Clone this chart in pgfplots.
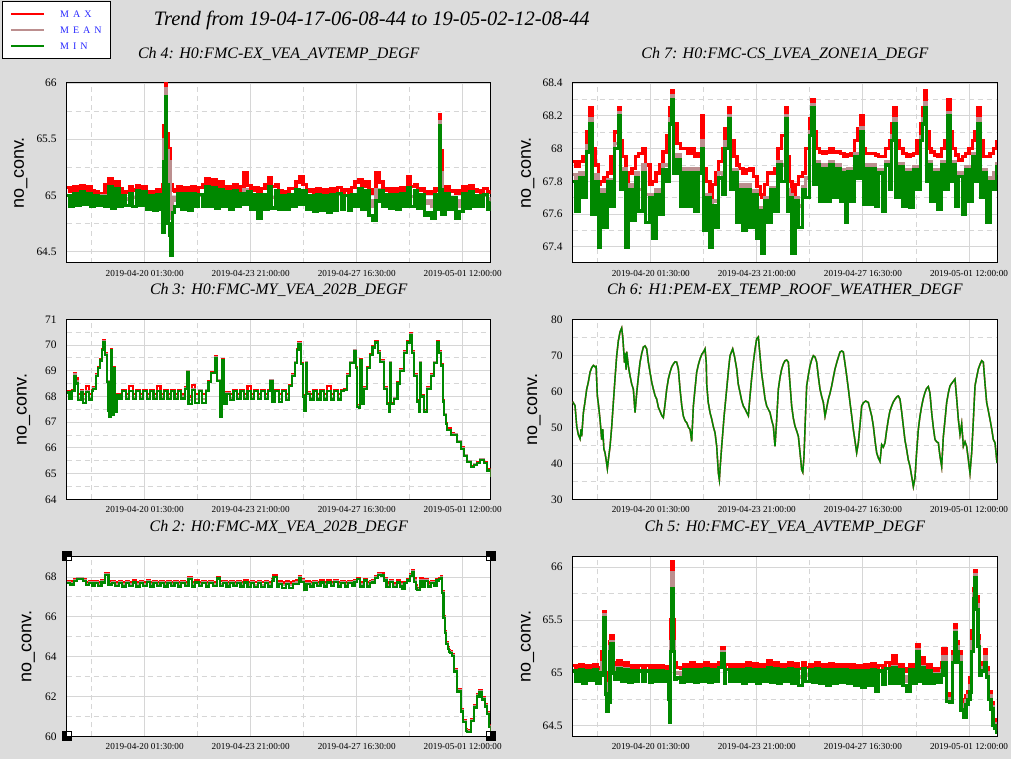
\documentclass[border=0pt]{standalone}
\usepackage{fontspec}
\setmainfont{Liberation Serif}
\setsansfont{Liberation Sans}
\usepackage{pgfplots}
\usepackage{pgfplotstable}
\pgfplotsset{compat=1.18}
\definecolor{bgc}{RGB}{220,220,220}
\definecolor{cmax}{RGB}{255,0,0}
\definecolor{cmean}{RGB}{188,143,143}
\definecolor{cmin}{RGB}{0,136,0}
\definecolor{gridc}{RGB}{214,214,214}
\definecolor{legblue}{RGB}{40,40,255}

% Ch 4
\pgfplotstableread{
t max mean min
0.0 65.07 65.00 65.00
0.125 65.04 64.98 64.90
0.25 65.08 65.01 65.02
0.375 65.05 64.98 64.91
0.5 65.09 65.02 65.03
0.625 65.05 64.99 64.92
0.75 65.08 65.01 65.02
0.875 65.04 64.98 64.90
1.0 65.03 65.00 65.00
1.125 65.02 64.97 64.91
1.25 65.02 65.00 64.99
1.375 65.10 64.99 64.90
1.5 65.15 65.05 65.08
1.625 65.09 64.99 64.89
1.75 65.12 65.04 65.06
1.875 65.06 64.98 64.90
2.0 65.03 65.00 65.00
2.125 65.03 64.97 64.91
2.25 65.08 65.01 65.02
2.375 65.05 64.98 64.90
2.5 65.09 65.02 65.04
2.625 65.06 64.99 64.91
2.75 65.08 65.01 65.03
2.875 65.03 64.96 64.88
3.0 65.03 64.99 65.00
3.125 65.03 64.95 64.87
3.25 65.05 65.00 65.01
3.375 65.03 64.95 64.88
3.45 65.10 64.90 64.67
3.5 65.62 65.50 65.30
3.55 66.00 65.95 65.88
3.6 65.55 65.40 65.10
3.65 65.30 65.10 64.75
3.7 65.42 65.30 64.65
3.74 65.10 64.80 64.47
3.8 65.05 64.98 64.85
3.875 65.04 64.96 64.90
4.0 65.08 65.01 65.02
4.125 65.05 64.97 64.88
4.25 65.07 65.01 65.02
4.375 65.04 64.96 64.87
4.5 65.08 65.01 65.02
4.625 65.04 64.97 64.90
4.75 65.07 65.00 65.01
4.875 65.10 64.98 64.90
5.0 65.15 65.06 65.08
5.125 65.10 64.99 64.90
5.25 65.14 65.05 65.07
5.375 65.05 64.97 64.89
5.5 65.12 65.03 65.05
5.625 65.05 64.98 64.90
5.75 65.08 65.01 65.03
5.875 65.05 64.97 64.88
6.0 65.10 65.02 65.04
6.125 65.05 64.98 64.90
6.25 65.08 65.01 65.02
6.375 65.20 65.05 64.92
6.5 65.09 65.02 65.03
6.625 65.05 64.97 64.88
6.75 65.07 65.00 65.01
6.875 65.04 64.93 64.80
7.0 65.06 65.00 65.01
7.125 65.10 64.98 64.88
7.25 65.16 65.06 65.08
7.375 65.08 64.98 64.89
7.5 65.10 65.03 65.04
7.625 65.04 64.97 64.88
7.75 65.03 65.00 65.00
7.875 65.03 64.96 64.88
8.0 65.06 65.00 65.01
8.125 65.06 64.98 64.90
8.25 65.12 65.03 65.05
8.375 65.17 65.02 64.92
8.5 65.10 65.03 65.04
8.625 65.04 64.97 64.88
8.75 65.05 65.00 65.00
8.875 65.03 64.96 64.86
9.0 65.06 65.00 65.01
9.125 65.03 64.96 64.87
9.25 65.05 65.00 65.00
9.375 65.03 64.95 64.85
9.5 65.06 65.00 65.01
9.625 65.04 64.96 64.87
9.75 65.07 65.01 65.02
9.875 65.03 64.96 64.88
10.0 65.05 65.00 65.00
10.125 65.03 64.96 64.87
10.25 65.07 65.00 65.01
10.375 65.12 64.99 64.90
10.5 65.14 65.04 65.06
10.625 65.08 64.98 64.88
10.75 65.12 65.03 65.04
10.875 65.05 64.95 64.82
11.0 65.02 64.90 64.78
11.125 65.20 65.05 64.95
11.25 65.12 65.03 65.04
11.375 65.05 64.98 64.90
11.5 65.06 65.00 65.01
11.625 65.04 64.97 64.89
11.75 65.06 65.00 65.01
11.875 65.04 64.96 64.88
12.0 65.07 65.01 65.02
12.125 65.05 64.98 64.90
12.25 65.17 65.05 65.07
12.375 65.08 64.99 64.90
12.5 65.10 65.03 65.04
12.625 65.05 64.97 64.89
12.75 65.06 65.00 65.01
12.875 65.03 64.93 64.82
13.0 65.02 64.95 64.85
13.125 65.03 64.90 64.80
13.25 65.06 65.00 65.01
13.35 65.05 64.97 64.88
13.4 65.72 65.66 65.62
13.45 65.40 65.20 65.05
13.5 65.05 64.93 64.83
13.625 65.08 65.01 65.02
13.75 65.04 64.96 64.88
13.875 65.04 64.98 64.98
14.0 65.02 64.90 64.80
14.125 65.04 64.95 64.86
14.25 65.08 65.01 65.02
14.375 65.05 64.98 64.89
14.5 65.09 65.02 65.03
14.625 65.05 64.98 64.90
14.75 65.04 65.00 65.00
14.875 65.03 64.96 64.90
15.0 65.06 65.00 65.01
15.125 65.03 64.96 64.88
15.25 65.05 64.99 64.95
}\chfour

% Ch 7
\pgfplotstableread{
t max mean min
0.0 67.92 67.84 67.80
0.125 67.89 67.75 67.62
0.25 67.92 67.85 67.82
0.375 67.95 67.78 67.70
0.5 68.10 68.02 67.98
0.62 68.25 68.18 68.15
0.7 68.00 67.80 67.60
0.8 67.90 67.84 67.80
0.92 67.78 67.60 67.40
1.0 67.80 67.75 67.72
1.125 67.82 67.68 67.52
1.25 67.85 67.81 67.80
1.375 67.95 67.78 67.65
1.5 68.10 68.03 68.00
1.64 68.25 68.22 68.20
1.72 68.05 67.85 67.75
1.8 67.95 67.88 67.85
1.92 67.78 67.60 67.40
2.0 67.85 67.78 67.75
2.125 67.88 67.72 67.56
2.25 67.95 67.85 67.82
2.375 67.97 67.75 67.62
2.5 68.00 67.90 67.85
2.625 67.90 67.72 67.55
2.78 67.78 67.72 67.70
2.875 67.80 67.60 67.45
3.0 67.85 67.75 67.72
3.125 67.90 67.72 67.60
3.25 67.98 67.90 67.87
3.375 68.08 67.90 67.80
3.48 68.25 68.18 68.15
3.56 68.35 68.32 68.30
3.625 68.15 67.95 67.85
3.75 68.03 67.96 67.93
3.875 68.00 67.80 67.65
4.0 68.00 67.88 67.85
4.125 67.97 67.78 67.65
4.25 68.00 67.88 67.85
4.375 67.95 67.75 67.62
4.5 67.97 67.88 67.85
4.63 68.20 68.05 68.00
4.7 67.88 67.65 67.50
4.8 67.80 67.72 67.70
4.93 67.70 67.55 67.40
5.0 67.78 67.68 67.65
5.125 67.85 67.68 67.52
5.25 67.92 67.85 67.82
5.375 68.00 67.82 67.72
5.47 68.12 68.04 68.00
5.59 68.25 68.20 68.18
5.68 68.05 67.85 67.75
5.8 67.95 67.87 67.85
5.9 67.90 67.70 67.55
6.0 67.88 67.78 67.75
6.125 67.85 67.65 67.50
6.25 67.87 67.78 67.75
6.375 67.88 67.68 67.52
6.5 67.83 67.74 67.72
6.625 67.77 67.60 67.45
6.75 67.72 67.64 67.62
6.81 67.70 67.50 67.36
6.9 67.78 67.70 67.68
7.0 67.85 67.68 67.55
7.125 67.85 67.76 67.75
7.25 67.88 67.72 67.62
7.375 68.00 67.92 67.90
7.5 68.08 67.90 67.80
7.64 68.25 68.20 68.18
7.72 67.95 67.75 67.62
7.8 67.80 67.72 67.70
7.88 67.65 67.50 67.36
8.0 67.78 67.70 67.68
8.125 67.83 67.65 67.52
8.25 67.85 67.77 67.75
8.375 68.00 67.82 67.70
8.5 68.18 68.10 68.08
8.58 68.30 68.27 68.25
8.67 68.10 67.90 67.78
8.75 68.00 67.92 67.90
8.875 67.98 67.80 67.68
9.0 67.97 67.90 67.88
9.125 67.98 67.80 67.68
9.25 68.00 67.92 67.90
9.375 67.98 67.80 67.70
9.5 67.98 67.90 67.88
9.625 67.97 67.78 67.68
9.75 67.95 67.87 67.85
9.8 67.95 67.70 67.55
9.875 67.96 67.88 67.86
10.0 67.97 67.80 67.68
10.125 68.05 67.97 67.95
10.25 68.12 67.95 67.82
10.34 68.20 68.13 68.10
10.45 68.00 67.80 67.66
10.5 67.97 67.90 67.88
10.625 67.97 67.80 67.66
10.75 67.97 67.90 67.88
10.875 67.96 67.78 67.65
11.0 67.95 67.87 67.85
11.125 67.95 67.76 67.62
11.25 68.00 67.92 67.90
11.375 68.05 67.88 67.75
11.46 68.15 68.08 68.05
11.54 68.25 68.18 68.15
11.625 68.05 67.85 67.70
11.75 68.00 67.91 67.89
11.875 67.97 67.78 67.65
12.0 67.95 67.87 67.85
12.125 67.96 67.78 67.64
12.25 67.97 67.89 67.87
12.375 68.05 67.88 67.75
12.5 68.15 68.07 68.05
12.58 68.25 68.18 68.15
12.65 68.35 68.28 68.25
12.72 68.10 67.90 67.80
12.8 68.00 67.92 67.90
12.875 67.98 67.80 67.68
13.0 67.96 67.87 67.85
13.125 67.95 67.76 67.63
13.25 68.00 67.92 67.90
13.375 68.05 67.88 67.75
13.49 68.30 68.22 68.20
13.56 68.10 67.90 67.80
13.65 68.00 67.92 67.90
13.75 67.96 67.78 67.65
13.875 67.93 67.85 67.83
14.0 67.95 67.75 67.60
14.125 67.97 67.89 67.87
14.25 68.00 67.82 67.68
14.375 68.05 67.97 67.95
14.45 68.10 67.92 67.80
14.57 68.25 68.18 68.15
14.65 68.05 67.85 67.70
14.75 67.95 67.87 67.85
14.87 67.95 67.72 67.55
15.0 67.97 67.82 67.80
15.125 68.00 67.85 67.75
15.25 68.05 67.92 67.90
}\chseven

% Ch 3
\pgfplotstableread{
t max mean min
0.0 68.20 68.17 68.15
0.1 68.12 68.00 67.92
0.2 68.23 68.21 68.20
0.28 68.90 68.85 68.80
0.34 68.70 68.60 68.50
0.42 68.10 67.95 67.85
0.5 68.23 68.20 68.18
0.6 68.10 67.90 67.75
0.7 68.40 68.20 68.18
0.8 68.10 67.95 67.88
0.9 68.23 68.21 68.20
0.96 68.35 68.32 68.30
1.05 68.85 68.82 68.80
1.12 69.15 69.12 69.10
1.2 69.45 69.42 69.40
1.27 69.85 69.82 69.80
1.32 70.20 70.15 70.10
1.38 69.70 69.65 69.60
1.44 68.60 68.58 68.55
1.50 67.50 67.48 67.45
1.54 67.25 67.22 67.20
1.58 69.85 69.82 69.80
1.62 68.40 68.35 68.30
1.66 67.35 67.32 67.30
1.70 69.15 69.12 69.10
1.74 67.42 67.40 67.38
1.80 68.10 68.07 68.05
1.9 68.10 67.98 67.90
2.0 68.23 68.21 68.20
2.125 68.10 67.98 67.90
2.25 68.40 68.22 68.20
2.375 68.10 67.98 67.90
2.5 68.23 68.21 68.20
2.625 68.10 67.98 67.90
2.75 68.23 68.21 68.20
2.875 68.10 67.98 67.90
3.0 68.23 68.21 68.20
3.125 68.10 67.98 67.90
3.25 68.40 68.22 68.20
3.375 68.10 67.98 67.90
3.5 68.23 68.21 68.20
3.625 68.10 67.98 67.90
3.75 68.23 68.22 68.22
3.875 68.10 67.98 67.90
4.0 68.23 68.21 68.20
4.125 68.10 68.00 67.92
4.25 68.35 68.32 68.30
4.32 69.00 68.97 68.95
4.38 68.00 67.85 67.70
4.5 68.45 68.28 68.25
4.625 68.10 67.90 67.75
4.75 68.25 68.23 68.22
4.875 68.10 67.90 67.75
5.0 68.25 68.23 68.22
5.1 68.60 68.57 68.55
5.2 68.95 68.92 68.90
5.34 69.55 69.52 69.50
5.42 68.65 68.62 68.60
5.52 67.25 67.22 67.20
5.58 69.45 69.42 69.40
5.64 67.80 67.75 67.70
5.75 68.15 68.12 68.10
5.875 68.10 67.95 67.85
6.0 68.23 68.21 68.20
6.125 68.10 67.98 67.90
6.25 68.23 68.21 68.20
6.375 68.10 67.98 67.90
6.5 68.40 68.22 68.20
6.625 68.10 67.98 67.90
6.75 68.23 68.21 68.20
6.875 68.10 67.98 67.90
7.0 68.23 68.21 68.20
7.125 68.10 67.98 67.90
7.25 68.23 68.21 68.20
7.32 68.65 68.62 68.60
7.4 68.10 67.90 67.80
7.5 68.23 68.21 68.20
7.625 68.10 67.90 67.78
7.75 68.23 68.21 68.20
7.875 68.10 67.95 67.85
8.0 68.45 68.42 68.40
8.1 68.85 68.82 68.80
8.2 69.35 69.32 69.30
8.28 69.85 69.82 69.80
8.34 70.10 70.07 70.05
8.42 69.30 69.27 69.25
8.5 68.05 68.02 68.00
8.55 67.48 67.46 67.45
8.61 69.35 69.32 69.30
8.64 68.15 68.12 68.10
8.75 68.10 67.95 67.88
8.875 68.23 68.21 68.20
9.0 68.10 67.95 67.88
9.125 68.23 68.21 68.20
9.25 68.10 67.95 67.88
9.375 68.40 68.22 68.20
9.5 68.10 67.95 67.88
9.625 68.23 68.21 68.20
9.75 68.10 67.95 67.88
9.875 68.23 68.21 68.20
9.96 68.28 68.26 68.25
10.08 68.85 68.82 68.80
10.2 69.35 69.32 69.30
10.32 69.82 69.80 69.78
10.4 69.15 69.12 69.10
10.44 67.65 67.62 67.60
10.5 67.58 67.56 67.55
10.56 69.45 69.42 69.40
10.62 67.75 67.72 67.70
10.68 68.35 68.32 68.30
10.8 69.15 69.12 69.10
10.92 69.65 69.62 69.60
11.0 69.95 69.92 69.90
11.1 70.15 70.12 70.10
11.2 69.75 69.72 69.70
11.28 69.40 69.37 69.35
11.4 68.35 68.32 68.30
11.52 67.75 67.72 67.70
11.58 67.42 67.41 67.40
11.62 69.35 69.32 69.30
11.67 67.75 67.72 67.70
11.76 67.95 67.92 67.90
11.9 68.55 68.52 68.50
12.0 69.05 69.02 69.00
12.12 69.75 69.72 69.70
12.25 70.15 70.12 70.10
12.34 70.45 70.42 70.40
12.42 69.75 69.72 69.70
12.5 68.85 68.82 68.80
12.6 67.85 67.82 67.80
12.67 67.42 67.41 67.40
12.70 69.35 69.32 69.30
12.75 68.05 68.02 68.00
12.85 67.45 67.42 67.40
12.97 68.35 68.32 68.30
13.09 68.85 68.82 68.80
13.2 69.35 69.32 69.30
13.33 70.15 70.12 70.10
13.4 69.75 69.72 69.70
13.47 69.25 69.22 69.20
13.53 67.85 67.82 67.80
13.57 67.32 67.30 67.28
13.63 66.96 66.94 66.92
13.69 66.75 66.70 66.68
13.81 66.58 66.54 66.50
13.93 66.55 66.52 66.50
14.05 66.28 66.25 66.22
14.17 66.02 66.00 65.97
14.29 65.72 65.70 65.68
14.41 65.50 65.47 65.45
14.53 65.30 65.27 65.25
14.65 65.38 65.35 65.32
14.75 65.45 65.42 65.40
14.86 65.58 65.55 65.52
15.0 65.45 65.42 65.40
15.12 65.16 65.14 65.12
15.25 64.88 64.86 64.85
}\chthree

% Ch 6
\pgfplotstableread{
t v
0.0 57.1
0.084 56.0
0.144 50.3
0.2 48.0
0.264 46.8
0.3 49.5
0.323 47.5
0.383 54.0
0.44 57.0
0.503 60.6
0.56 62.5
0.623 65.3
0.68 66.5
0.743 67.2
0.803 66.8
0.84 66.9
0.886 58.7
0.93 56.0
0.982 52.2
1.042 46.6
1.08 49.5
1.12 44.0
1.162 42.9
1.2 41.0
1.246 38.5
1.29 41.5
1.342 44.7
1.4 50.0
1.461 56.9
1.52 63.5
1.581 69.9
1.64 74.0
1.701 76.5
1.761 77.6
1.8 75.0
1.821 72.7
1.86 68.0
1.881 70.5
1.92 66.0
1.941 71.0
2.0 67.0
2.06 64.3
2.12 62.0
2.18 60.6
2.24 54.1
2.3 59.5
2.36 64.0
2.42 68.1
2.48 70.5
2.54 72.3
2.6 72.6
2.659 71.8
2.72 68.0
2.779 65.3
2.84 62.5
2.899 60.6
2.96 58.8
3.019 57.8
3.08 55.5
3.138 54.5
3.2 53.3
3.258 52.7
3.32 56.5
3.378 60.6
3.44 63.5
3.498 65.3
3.56 66.8
3.618 67.6
3.68 68.2
3.737 68.1
3.797 66.2
3.857 60.6
3.92 56.0
3.977 53.1
4.04 51.8
4.097 51.3
4.16 50.0
4.217 49.4
4.277 46.1
4.336 55.9
4.4 61.0
4.456 65.3
4.52 67.5
4.576 69.0
4.64 70.3
4.696 70.9
4.756 71.8
4.8 68.0
4.816 62.0
4.87 57.0
4.935 54.1
4.995 52.3
5.06 50.0
5.115 48.5
5.175 44.7
5.235 37.3
5.271 35.4
5.31 40.0
5.355 44.7
5.44 53.0
5.534 60.6
5.6 66.0
5.654 69.9
5.75 71.8
5.82 69.5
5.894 66.2
5.95 62.0
6.013 59.7
6.07 57.5
6.133 55.9
6.2 55.0
6.253 54.1
6.313 53.2
6.373 58.7
6.43 63.5
6.493 68.1
6.55 71.5
6.612 74.6
6.672 75.1
6.732 69.9
6.79 65.0
6.852 61.5
6.91 58.0
6.972 55.9
7.03 55.0
7.092 54.1
7.15 52.0
7.211 50.3
7.271 44.7
7.33 52.0
7.391 60.6
7.45 63.8
7.511 66.2
7.57 67.6
7.631 68.5
7.69 68.7
7.75 68.1
7.81 62.0
7.87 55.9
7.93 52.5
7.99 50.3
8.05 49.0
8.11 47.5
8.17 43.0
8.23 38.2
8.27 37.5
8.313 41.9
8.36 52.0
8.409 61.5
8.47 64.5
8.529 67.1
8.59 68.8
8.649 69.9
8.71 69.5
8.769 68.1
8.83 64.0
8.888 60.6
8.95 58.5
9.008 56.9
9.068 53.1
9.13 55.5
9.188 57.8
9.25 59.5
9.308 61.5
9.37 64.0
9.427 66.2
9.52 68.8
9.607 70.9
9.67 71.2
9.727 70.9
9.79 67.5
9.847 64.3
9.91 60.5
9.966 56.9
10.03 53.0
10.086 49.4
10.15 46.0
10.206 42.9
10.266 45.7
10.33 51.0
10.386 55.9
10.446 56.8
10.53 57.3
10.625 56.9
10.685 55.0
10.75 53.0
10.805 50.3
10.87 46.0
10.925 42.9
10.985 41.5
11.045 40.5
11.105 45.2
11.165 44.5
11.224 45.7
11.28 49.0
11.344 52.2
11.4 54.5
11.464 55.9
11.52 57.0
11.584 57.8
11.65 58.5
11.704 58.7
11.763 57.8
11.82 54.5
11.883 50.3
11.94 46.5
12.003 43.8
12.06 41.0
12.123 39.1
12.18 36.5
12.243 33.5
12.302 36.0
12.36 43.0
12.422 49.4
12.48 53.0
12.542 55.9
12.6 58.0
12.662 59.7
12.72 60.8
12.781 61.3
12.84 59.5
12.901 54.1
12.96 50.0
13.021 46.6
13.08 46.0
13.141 45.7
13.2 42.0
13.261 39.1
13.321 47.4
13.38 52.0
13.441 56.9
13.5 59.5
13.56 61.5
13.65 62.5
13.74 63.4
13.8 58.0
13.86 52.2
13.92 48.0
13.98 51.0
14.04 44.7
14.1 46.0
14.159 44.7
14.22 41.0
14.279 37.3
14.339 42.9
14.4 52.0
14.459 61.5
14.52 64.0
14.579 66.2
14.64 67.5
14.698 68.5
14.758 68.1
14.82 62.0
14.878 56.9
14.94 54.5
14.998 52.2
15.06 49.5
15.118 46.6
15.178 45.7
15.25 40.1
}\chsix

% Ch 2
\pgfplotstableread{
t max mean min
0.0 67.78 67.72 67.68
0.125 67.78 67.70 67.62
0.25 67.88 67.82 67.80
0.36 67.95 67.92 67.90
0.5 67.95 67.92 67.88
0.6 67.90 67.84 67.80
0.7 67.75 67.66 67.58
0.8 67.78 67.72 67.68
0.9 67.72 67.62 67.55
1.0 67.78 67.72 67.68
1.125 67.72 67.62 67.53
1.25 67.85 67.78 67.72
1.38 68.20 68.15 68.10
1.5 67.80 67.70 67.62
1.625 67.80 67.72 67.70
1.75 67.75 67.62 67.53
1.875 67.80 67.72 67.70
2.0 67.75 67.62 67.52
2.125 67.80 67.72 67.70
2.25 67.75 67.62 67.53
2.375 67.82 67.75 67.72
2.5 67.75 67.62 67.52
2.625 67.80 67.72 67.70
2.75 67.75 67.62 67.53
2.875 67.85 67.78 67.75
3.0 67.75 67.62 67.52
3.125 67.80 67.72 67.70
3.25 67.75 67.62 67.53
3.375 67.80 67.72 67.70
3.5 67.75 67.62 67.52
3.625 67.80 67.72 67.70
3.75 67.75 67.62 67.53
3.875 67.80 67.72 67.70
4.0 67.75 67.62 67.52
4.125 67.80 67.72 67.70
4.25 67.75 67.65 67.55
4.38 68.00 67.95 67.90
4.5 67.75 67.62 67.52
4.625 67.82 67.75 67.72
4.75 67.75 67.62 67.53
4.875 67.80 67.72 67.70
5.0 67.75 67.62 67.52
5.125 67.80 67.72 67.70
5.25 67.75 67.64 67.55
5.40 68.00 67.95 67.92
5.5 67.78 67.66 67.55
5.625 67.80 67.72 67.70
5.75 67.75 67.62 67.52
5.875 67.80 67.72 67.70
6.0 67.75 67.62 67.53
6.125 67.80 67.72 67.70
6.25 67.75 67.62 67.52
6.375 67.82 67.75 67.72
6.5 67.75 67.62 67.50
6.625 67.80 67.72 67.70
6.75 67.75 67.60 67.48
6.875 67.80 67.72 67.70
7.0 67.75 67.60 67.48
7.125 67.80 67.72 67.70
7.25 67.75 67.62 67.52
7.375 67.90 67.82 67.78
7.44 68.08 68.02 68.00
7.55 67.75 67.62 67.52
7.625 67.78 67.70 67.66
7.75 67.72 67.58 67.45
7.875 67.78 67.70 67.66
8.0 67.72 67.58 67.45
8.125 67.78 67.70 67.66
8.25 67.85 67.75 67.65
8.35 68.05 68.00 67.97
8.44 67.90 67.82 67.75
8.53 67.60 67.45 67.35
8.625 67.78 67.70 67.66
8.75 67.75 67.62 67.52
8.875 67.80 67.72 67.70
9.0 67.75 67.62 67.53
9.125 67.82 67.75 67.72
9.25 67.75 67.62 67.52
9.375 67.82 67.75 67.72
9.5 67.75 67.62 67.53
9.625 67.85 67.78 67.75
9.75 67.75 67.62 67.52
9.875 67.80 67.72 67.70
10.0 67.75 67.62 67.52
10.125 67.80 67.72 67.70
10.25 67.75 67.62 67.53
10.35 67.85 67.78 67.75
10.45 67.95 67.90 67.88
10.55 67.75 67.62 67.52
10.69 67.90 67.85 67.82
10.8 67.75 67.62 67.52
10.9 67.80 67.72 67.70
11.0 67.85 67.78 67.72
11.1 68.05 68.00 67.95
11.2 68.20 68.15 68.12
11.3 68.18 68.12 68.08
11.4 67.95 67.88 67.82
11.5 67.72 67.60 67.50
11.625 67.85 67.78 67.75
11.75 67.70 67.58 67.50
11.875 67.82 67.75 67.72
12.0 67.75 67.62 67.52
12.07 67.55 67.45 67.40
12.15 67.75 67.70 67.68
12.25 67.90 67.85 67.82
12.35 68.15 68.10 68.05
12.43 68.33 68.28 68.25
12.5 67.95 67.85 67.75
12.55 67.60 67.50 67.42
12.61 67.45 67.38 67.33
12.7 67.92 67.85 67.80
12.8 67.72 67.60 67.52
12.9 67.90 67.82 67.78
13.0 67.72 67.60 67.52
13.1 67.80 67.72 67.70
13.2 67.78 67.65 67.55
13.3 67.90 67.85 67.82
13.4 67.95 67.90 67.88
13.47 68.05 68.00 67.97
13.51 67.30 67.25 67.20
13.55 66.05 66.00 65.95
13.6 65.30 65.25 65.20
13.65 64.75 64.70 64.65
13.7 64.50 64.45 64.40
13.75 64.35 64.30 64.25
13.8 64.30 64.25 64.20
13.87 64.15 64.10 64.05
13.93 63.35 63.30 63.25
14.05 62.35 62.30 62.25
14.17 61.35 61.30 61.25
14.26 60.80 60.75 60.70
14.35 60.35 60.30 60.25
14.41 60.30 60.25 60.20
14.53 60.85 60.80 60.75
14.65 61.55 61.50 61.45
14.77 62.10 62.05 62.00
14.85 62.30 62.25 62.20
14.95 61.95 61.90 61.85
15.05 61.60 61.55 61.50
15.13 61.20 61.15 61.10
15.2 60.55 60.50 60.45
15.25 60.20 60.15 60.10
}\chtwo

% Ch 5
\pgfplotstableread{
t max mean min
0.0 65.07 65.02 65.02
0.125 65.04 64.98 64.92
0.25 65.08 65.03 65.03
0.375 65.04 64.97 64.90
0.5 65.07 65.02 65.02
0.625 65.04 64.98 64.93
0.75 65.08 65.03 65.03
0.875 65.03 64.96 64.90
0.98 65.05 65.01 65.00
1.04 65.20 65.10 64.98
1.1 65.55 65.50 65.45
1.13 65.58 65.55 65.52
1.17 65.00 64.90 64.80
1.22 64.75 64.70 64.64
1.28 64.80 64.75 64.72
1.34 65.30 65.25 65.20
1.38 65.35 65.30 65.28
1.45 65.10 65.05 65.00
1.52 65.00 64.96 64.94
1.625 65.12 65.05 65.04
1.75 65.07 64.98 64.92
1.875 65.10 65.04 65.03
2.0 65.05 64.97 64.91
2.125 65.07 65.02 65.02
2.25 65.04 64.98 64.92
2.375 65.07 65.02 65.02
2.5 65.04 64.98 64.92
2.625 65.07 65.02 65.02
2.75 65.04 64.97 64.91
2.875 65.07 65.02 65.02
3.0 65.04 64.98 64.92
3.125 65.07 65.02 65.02
3.25 65.04 64.98 64.92
3.375 65.06 65.01 65.01
3.44 64.90 64.80 64.75
3.48 64.80 64.65 64.53
3.52 65.50 65.30 65.20
3.56 66.05 65.95 65.80
3.6 65.50 65.30 65.20
3.65 65.10 65.00 64.94
3.73 65.05 65.00 64.95
3.875 65.04 64.97 64.91
4.0 65.08 65.03 65.03
4.125 65.06 64.98 64.92
4.25 65.10 65.03 65.03
4.375 65.04 64.97 64.91
4.5 65.08 65.03 65.03
4.625 65.04 64.98 64.92
4.75 65.10 65.04 65.04
4.875 65.04 64.97 64.91
5.0 65.08 65.03 65.03
5.125 65.04 64.98 64.92
5.25 65.10 65.05 65.05
5.35 65.24 65.20 65.18
5.45 65.04 64.97 64.90
5.5 65.08 65.03 65.03
5.625 65.04 64.98 64.92
5.75 65.08 65.03 65.03
5.875 65.04 64.98 64.92
6.0 65.08 65.03 65.03
6.125 65.04 64.97 64.90
6.25 65.10 65.04 65.04
6.375 65.05 64.98 64.92
6.5 65.09 65.03 65.03
6.625 65.04 64.97 64.90
6.75 65.08 65.03 65.03
6.875 65.05 64.98 64.92
7.0 65.12 65.05 65.05
7.125 65.05 64.98 64.91
7.25 65.10 65.04 65.04
7.375 65.05 64.97 64.90
7.5 65.08 65.03 65.03
7.625 65.05 64.98 64.92
7.75 65.10 65.04 65.04
7.875 65.04 64.97 64.90
8.0 65.09 65.03 65.03
8.125 65.04 64.96 64.88
8.25 65.10 65.04 65.04
8.375 65.05 64.98 64.92
8.5 65.08 65.03 65.03
8.625 65.04 64.97 64.91
8.75 65.10 65.04 65.04
8.875 65.04 64.97 64.90
9.0 65.08 65.03 65.03
9.125 65.04 64.96 64.88
9.25 65.09 65.03 65.03
9.375 65.04 64.97 64.90
9.5 65.08 65.03 65.03
9.625 65.04 64.97 64.91
9.75 65.08 65.03 65.03
9.875 65.05 64.97 64.90
10.0 65.08 65.02 65.02
10.125 65.03 64.95 64.88
10.25 65.07 65.02 65.02
10.375 65.03 64.94 64.86
10.5 65.08 65.02 65.02
10.625 65.04 64.96 64.88
10.75 65.09 65.03 65.03
10.875 65.03 64.92 64.83
11.0 65.07 65.02 65.02
11.125 65.04 64.96 64.89
11.25 65.10 65.04 65.04
11.375 65.05 64.97 64.90
11.5 65.16 65.06 65.05
11.625 65.05 64.97 64.90
11.75 65.08 65.03 65.03
11.875 65.04 64.96 64.88
12.0 65.02 64.92 64.83
12.125 65.08 65.03 65.03
12.25 65.05 64.97 64.90
12.35 65.27 65.22 65.20
12.45 65.06 64.98 64.92
12.55 65.14 65.06 65.05
12.625 65.04 64.96 64.90
12.75 65.08 65.02 65.02
12.875 65.02 64.95 64.90
13.0 65.04 64.99 64.98
13.125 65.02 64.95 64.91
13.25 65.10 65.02 64.98
13.31 65.23 65.15 65.10
13.43 64.80 64.76 64.73
13.55 64.78 64.74 64.72
13.64 65.20 65.15 65.10
13.73 65.46 65.40 65.38
13.8 65.30 65.25 65.20
13.85 65.20 65.15 65.10
13.95 64.75 64.70 64.65
14.05 64.62 64.60 64.58
14.13 64.78 64.74 64.70
14.21 64.82 64.78 64.75
14.28 64.95 64.88 64.82
14.33 65.40 65.30 65.20
14.40 65.80 65.75 65.70
14.45 65.97 65.93 65.90
14.51 65.72 65.65 65.60
14.57 65.35 65.30 65.25
14.63 65.05 65.00 64.98
14.7 65.10 65.05 65.02
14.81 65.22 65.15 65.10
14.88 65.05 65.00 64.96
14.95 64.82 64.78 64.75
15.03 64.72 64.68 64.66
15.11 64.56 64.52 64.50
15.18 64.53 64.50 64.48
15.25 64.47 64.45 64.42
}\chfive

\pgfplotsset{
  panel/.style={
    scale only axis, width=424pt, height=180pt, anchor=south west,
    xmin=0, xmax=15.25,
    xtick={2.806,6.618,10.431,14.243},
    xticklabels={2019-04-20 01:30:00,2019-04-23 21:00:00,2019-04-27 16:30:00,2019-05-01 12:00:00},
    minor xtick={0.899,4.712,8.524,12.337},
    grid=both,
    major grid style={draw=gridc, line width=0.9pt},
    minor grid style={draw=gridc, line width=0.9pt, dash pattern=on 5pt off 4pt},
    major tick length=0pt, minor tick length=0pt,
    axis line style={black, line width=1pt},
    axis background/.style={fill=white},
    xticklabel style={font=\fontsize{9.2}{10}\selectfont, anchor=base, yshift=-13.7pt, inner sep=0pt},
    yticklabel style={font=\fontsize{11.4}{12}\selectfont, anchor=east, xshift=-10pt, inner sep=0pt},
    ylabel={no\_conv.},
    ylabel style={font=\sffamily\fontsize{18}{20}\selectfont, anchor=center},
    title style={font=\itshape\fontsize{16}{18}\selectfont, at={(0.5,1)}, anchor=base, yshift=18.5pt},
    /pgf/number format/assume math mode=true,
    clip=true,
  },
  smax/.style={draw=cmax, line width=3.4pt, const plot, no marks},
  smean/.style={draw=cmean, line width=3.4pt, const plot, no marks},
  smin/.style={draw=cmin, line width=3.4pt, const plot, no marks},
  tmax/.style={draw=cmax, line width=2.2pt, const plot, no marks},
  tmean/.style={draw=cmean, line width=2.2pt, const plot, no marks},
  tmin/.style={draw=cmin, line width=2.2pt, const plot, no marks},
}

\begin{document}
\begin{tikzpicture}[x=1pt,y=1pt]
\fill[bgc] (0,0) rectangle (1011,759);

% legend
\draw[black, line width=1pt, fill=white] (2.7,700.7) rectangle (110.7,757.3);
\draw[draw=cmax, line width=1.3pt] (11,745) -- (44,745);
\draw[draw=cmean, line width=1.3pt] (11,729) -- (44,729);
\draw[draw=cmin, line width=1.3pt] (11,713) -- (44,713);
\node[anchor=base west, inner sep=0pt, text=legblue, font=\fontsize{10}{12}\selectfont] at (60,741.7) {M\hspace{4pt}A\hspace{4pt}X};
\node[anchor=base west, inner sep=0pt, text=legblue, font=\fontsize{10}{12}\selectfont] at (60,725.7) {M\hspace{4pt}E\hspace{4pt}A\hspace{4pt}N};
\node[anchor=base west, inner sep=0pt, text=legblue, font=\fontsize{10}{12}\selectfont] at (60,709.7) {M\hspace{4pt}I\hspace{4pt}N};

% main title
\node[anchor=base, inner sep=0pt, font=\itshape\fontsize{20.5}{24}\selectfont] at (371.7,733) {Trend from 19-04-17-06-08-44 to 19-05-02-12-08-44};

% Ch 4
\begin{axis}[panel, at={(66.7pt,496pt)},
  title={Ch 4: H0:FMC-EX\_VEA\_AVTEMP\_DEGF},
  ymin=64.4, ymax=66,
  ytick={64.5,65,65.5,66}, yticklabels={64.5,65,65.5,66},
  minor ytick={64.75,65.25,65.75},
  ylabel style={at={(axis description cs:-0.1083,0.5)}}]
\addplot[smax] table[x=t,y=max]{\chfour};
\addplot[smean] table[x=t,y=mean]{\chfour};
\addplot[smin] table[x=t,y=min]{\chfour};
\end{axis}

% Ch 7
\begin{axis}[panel, at={(572.7pt,496pt)}, width=424.3pt,
  title={Ch 7: H0:FMC-CS\_LVEA\_ZONE1A\_DEGF},
  ymin=67.302, ymax=68.4,
  ytick={67.4,67.6,67.8,68,68.2,68.4}, yticklabels={67.4,67.6,67.8,68,68.2,68.4},
  minor ytick={67.5,67.7,67.9,68.1,68.3},
  ylabel style={at={(axis description cs:-0.1058,0.5)}}]
\addplot[smax] table[x=t,y=max]{\chseven};
\addplot[smean] table[x=t,y=mean]{\chseven};
\addplot[smin] table[x=t,y=min]{\chseven};
\end{axis}

% Ch 3
\begin{axis}[panel, at={(66.7pt,259.7pt)},
  title={Ch 3: H0:FMC-MY\_VEA\_202B\_DEGF},
  ymin=64, ymax=71,
  ytick={64,65,66,67,68,69,70,71}, yticklabels={64,65,66,67,68,69,70,71},
  minor ytick={64.5,65.5,66.5,67.5,68.5,69.5,70.5},
  ylabel style={at={(axis description cs:-0.1020,0.5)}}]
\addplot[tmax] table[x=t,y=max]{\chthree};
\addplot[tmean] table[x=t,y=mean]{\chthree};
\addplot[tmin] table[x=t,y=min]{\chthree};
\end{axis}

% Ch 6
\begin{axis}[panel, at={(572.7pt,259.7pt)}, width=424.3pt,
  title={Ch 6: H1:PEM-EX\_TEMP\_ROOF\_WEATHER\_DEGF},
  ymin=30, ymax=80,
  ytick={30,40,50,60,70,80}, yticklabels={30,40,50,60,70,80},
  minor ytick={35,45,55,65,75},
  ylabel style={at={(axis description cs:-0.0912,0.5)}}]
\addplot[draw=cmax, line width=1.4pt, no marks] table[x=t,y=v]{\chsix};
\addplot[draw=cmean, line width=1.4pt, no marks] table[x=t,y=v]{\chsix};
\addplot[draw=cmin, line width=1.4pt, no marks] table[x=t,y=v]{\chsix};
\end{axis}

% Ch 2
\begin{axis}[panel, at={(66.7pt,22.7pt)},
  title={Ch 2: H0:FMC-MX\_VEA\_202B\_DEGF},
  ymin=60, ymax=69.04,
  ytick={60,62,64,66,68}, yticklabels={60,62,64,66,68},
  minor ytick={61,63,65,67},
  ylabel style={at={(axis description cs:-0.0906,0.5)}}]
\addplot[tmax] table[x=t,y=max]{\chtwo};
\addplot[tmean] table[x=t,y=mean]{\chtwo};
\addplot[tmin] table[x=t,y=min]{\chtwo};
\end{axis}

% Ch 5
\begin{axis}[panel, at={(572.7pt,22.7pt)}, width=424.3pt,
  title={Ch 5: H0:FMC-EY\_VEA\_AVTEMP\_DEGF},
  ymin=64.4, ymax=66.104,
  ytick={64.5,65,65.5,66}, yticklabels={64.5,65,65.5,66},
  minor ytick={64.75,65.25,65.75},
  ylabel style={at={(axis description cs:-0.1065,0.5)}}]
\addplot[smax] table[x=t,y=max]{\chfive};
\addplot[smean] table[x=t,y=mean]{\chfive};
\addplot[smin] table[x=t,y=min]{\chfive};
\end{axis}

% selection handles on Ch 2
\foreach \cx/\cy/\dx/\dy in {66.7/22.7/1/1, 490.7/22.7/-1/1, 66.7/202.7/1/-1, 490.7/202.7/-1/-1}{
  \fill[black] (\cx-5,\cy-5) rectangle (\cx+5,\cy+5);
  \fill[white] (\cx+\dx*0.6,\cy+\dy*0.6) rectangle (\cx+\dx*4,\cy+\dy*4);
}
\end{tikzpicture}
\end{document}
